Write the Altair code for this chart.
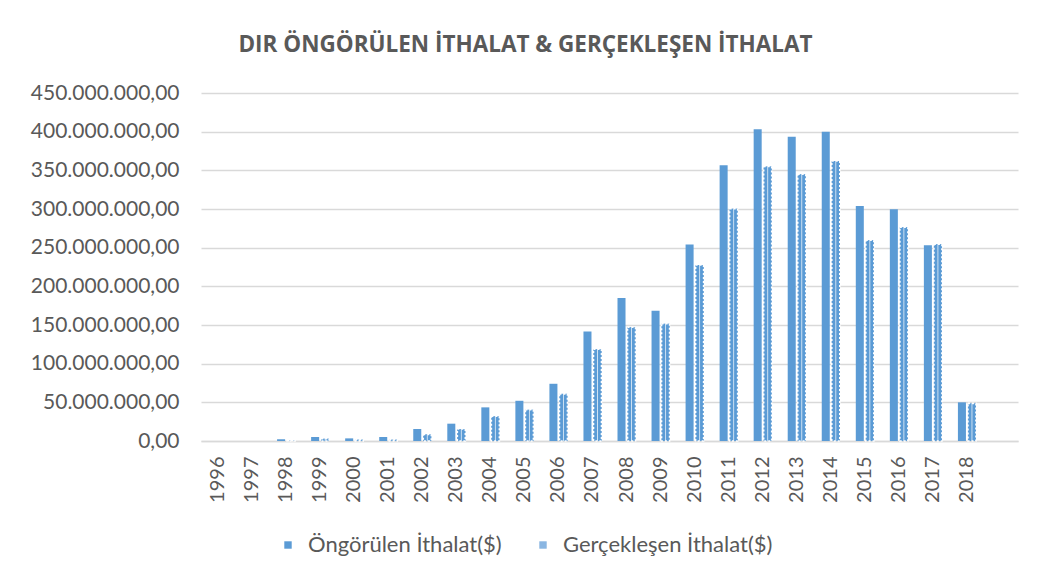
import altair as alt
import pandas as pd

years = ["1996", "1997", "1998", "1999", "2000", "2001", "2002", "2003", "2004",
         "2005", "2006", "2007", "2008", "2009", "2010", "2011", "2012", "2013",
         "2014", "2015", "2016", "2017", "2018"]
# values in million USD
ongorulen = [0, 0, 2.2, 5.2, 3.4, 5.2, 15.5, 22.4, 43.5, 52, 74, 141.6, 185, 168.4,
             254, 356.5, 403, 393.5, 400, 304, 299.7, 253, 50]
gerceklesen = [0, 0, 0.5, 3, 1.7, 1.7, 8.6, 15.5, 32, 40.4, 61, 118.8, 147, 151.7,
               227.6, 300.3, 355, 345, 362, 259.5, 276.5, 254.5, 48.6]
series = ["Öngörülen İthalat($)", "Gerçekleşen İthalat($)"]
y_ticks = [0, 50e6, 100e6, 150e6, 200e6, 250e6, 300e6, 350e6, 400e6, 450e6]
x_domain = years + [" "]

rows = []
for yr, a, b in zip(years, ongorulen, gerceklesen):
    rows.append({"Yıl": yr, "Seri": series[0], "Değer": a * 1e6})
    rows.append({"Yıl": yr, "Seri": series[1], "Değer": b * 1e6})
df = pd.DataFrame(rows)

FONT = "Lato"
GRAY = "#595959"
BLUE = "#5b9bd5"

label_expr = ("join(split(split(format(datum.value, ',.2f'), '.')[0], ','), '.') + ',' + "
              "split(format(datum.value, ',.2f'), '.')[1]")

x_enc = alt.X("Yıl:N", sort=x_domain,
              scale=alt.Scale(domain=x_domain, paddingInner=0.47, paddingOuter=0.235),
              axis=alt.Axis(title=None, labelAngle=-90, labelFont=FONT, labelFontSize=20,
                            labelColor=GRAY, ticks=False, domainColor="#d9d9d9",
                            domainWidth=1.5, labelPadding=15, grid=False))
y_enc = alt.Y("Değer:Q",
              scale=alt.Scale(domain=[0, 450e6], nice=False),
              axis=alt.Axis(title=None, values=y_ticks, labelExpr=label_expr,
                            labelFont=FONT, labelFontSize=21, labelColor=GRAY,
                            ticks=False, domain=False, gridColor="#d9d9d9",
                            gridWidth=1.5, labelPadding=22))
xoff = alt.XOffset("Seri:N", sort=series,
                   scale=alt.Scale(domain=series, paddingInner=0.2, paddingOuter=0))

base = alt.Chart(df).transform_filter(alt.datum["Değer"] > 0)

bars = base.mark_bar().encode(
    x=x_enc, y=y_enc, xOffset=xoff,
    color=alt.Color("Seri:N", sort=series,
                    scale=alt.Scale(domain=series, range=[BLUE, "#8ab6e2"]),
                    legend=alt.Legend(title=None, orient="none", direction="horizontal",
                                      legendX=76, legendY=441, labelFont=FONT,
                                      labelFontSize=22, labelColor=GRAY,
                                      labelLimit=0,
                                      symbolType="square", symbolSize=55,
                                      symbolStrokeWidth=0, labelOffset=9,
                                      columnPadding=30)),
)

pattern = base.mark_bar(
    fill={"gradient": "linear", "x1": 0, "x2": 1, "y1": 0, "y2": 0,
          "stops": [{"offset": 0, "color": BLUE}, {"offset": 0.38, "color": BLUE},
                    {"offset": 0.5, "color": "#cfe2f3"}, {"offset": 0.62, "color": BLUE},
                    {"offset": 1, "color": BLUE}]},
    stroke="white", strokeWidth=1.6, strokeDash=[2, 2]
).encode(x=x_enc, y=y_enc, xOffset=xoff).transform_filter(
    alt.datum["Seri"] == series[1]
)

chart = alt.layer(bars, pattern).properties(
    width=817, height=348,
    title=alt.TitleParams("DIR ÖNGÖRÜLEN İTHALAT & GERÇEKLEŞEN İTHALAT",
                          font="Open Sans", fontSize=22.5, fontWeight="bold", color=GRAY,
                          anchor="middle", dx=-84, offset=26),
    autosize=alt.AutoSizeParams(type="none"),
    padding={"left": 193, "top": 85, "right": 17, "bottom": 134},
    background="white",
).configure_view(stroke=None)

chart.save("out.html", embed_options={"renderer": "svg", "actions": False})
